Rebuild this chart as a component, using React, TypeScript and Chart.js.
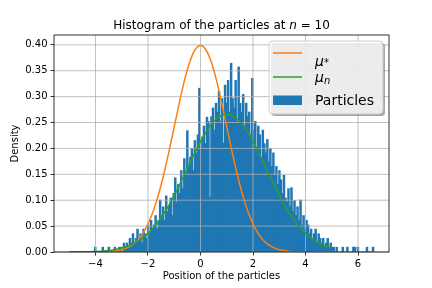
import { useEffect, useRef } from 'react';
import { Chart, registerables } from 'chart.js';

Chart.register(...registerables);

// Histogram bins (edges start at binStart, constant width)
const binStart = -4.9;
const binWidth = 0.0575;
const histDensity = [
  0, 0, 0, 0, 0, 0, 0, 0, 0, 0,
  0, 0, 0, 0, 0, 0.009, 0, 0, 0, 0,
  0.009, 0, 0, 0, 0.009, 0, 0, 0, 0.009, 0,
  0, 0.009, 0.009, 0, 0.017, 0.009, 0.017, 0.009, 0.026, 0.017,
  0.035, 0.017, 0.026, 0.044, 0.026, 0.035, 0.017, 0.044, 0.035, 0.026,
  0.052, 0.035, 0.061, 0.044, 0.052, 0.07, 0.044, 0.061, 0.1, 0.07,
  0.087, 0.061, 0.108, 0.078, 0.089, 0.104, 0.07, 0.113, 0.143, 0.096,
  0.13, 0.113, 0.157, 0.122, 0.18, 0.148, 0.234, 0.165, 0.183, 0.2,
  0.157, 0.215, 0.191, 0.226, 0.316, 0.2, 0.222, 0.243, 0.209, 0.26,
  0.252, 0.105, 0.261, 0.278, 0.235, 0.287, 0.27, 0.31, 0.252, 0.296,
  0.21, 0.322, 0.287, 0.331, 0.27, 0.364, 0.296, 0.278, 0.331, 0.252,
  0.357, 0.287, 0.27, 0.304, 0.243, 0.287, 0.261, 0.27, 0.226, 0.335,
  0.235, 0.252, 0.2, 0.243, 0.226, 0.183, 0.235, 0.209, 0.191, 0.217,
  0.174, 0.2, 0.165, 0.191, 0.148, 0.165, 0.13, 0.157, 0.139, 0.113,
  0.148, 0.104, 0.096, 0.122, 0.087, 0.124, 0.078, 0.099, 0.07, 0.087,
  0.061, 0.1, 0.052, 0.07, 0.044, 0.061, 0.052, 0.035, 0.044, 0.026,
  0.035, 0.044, 0.017, 0.035, 0.026, 0.017, 0.026, 0.009, 0.017, 0.026,
  0.009, 0.017, 0.009, 0.009, 0, 0.009, 0, 0, 0, 0.009,
  0, 0, 0.009, 0, 0, 0, 0.009, 0.009, 0, 0.009,
  0, 0, 0, 0, 0, 0.009, 0, 0, 0, 0.009,
];

// Curves
const curveX = [
  -5, -4.8, -4.6, -4.4, -4.2, -4, -3.8, -3.6, -3.4, -3.2,
  -3, -2.8, -2.6, -2.4, -2.2, -2, -1.8, -1.6, -1.4, -1.2,
  -1, -0.8, -0.6, -0.4, -0.2, 0, 0.2, 0.4, 0.6, 0.8,
  1, 1.2, 1.4, 1.6, 1.8, 2, 2.2, 2.4, 2.6, 2.8,
  3, 3.2, 3.4, 3.6, 3.8, 4, 4.2, 4.4, 4.6, 4.8, 5,
];
const muStar = [
  0, 0, 0, 0, 0, 0.0001, 0.0003, 0.0006, 0.0012, 0.0024,
  0.0044, 0.0079, 0.0136, 0.0224, 0.0355, 0.054, 0.079, 0.1109, 0.1497, 0.1942,
  0.242, 0.2897, 0.3332, 0.3683, 0.391, 0.3989, 0.391, 0.3683, 0.3332, 0.2897,
  0.242, 0.1942, 0.1497, 0.1109, 0.079, 0.054, 0.0355, 0.0224, 0.0136, 0.0079,
  0.0044, 0.0024, 0.0012, 0.0006, 0.0003, 0.0001, 0, 0, 0, 0, 0,
];
const muN = [
  0.0001, 0.0002, 0.0003, 0.0004, 0.0007, 0.001, 0.0016, 0.0024, 0.0036, 0.0053,
  0.0076, 0.0107, 0.0149, 0.0204, 0.0273, 0.036, 0.0466, 0.0592, 0.0739, 0.0907,
  0.1093, 0.1295, 0.1506, 0.1721, 0.1931, 0.213, 0.2307, 0.2455, 0.2567, 0.2636,
  0.266, 0.2636, 0.2567, 0.2455, 0.2307, 0.213, 0.1931, 0.1721, 0.1506, 0.1295,
  0.1093, 0.0907, 0.0739, 0.0592, 0.0466, 0.036, 0.0273, 0.0204, 0.0149, 0.0107, 0.0076,
];

const xTicks = [-4, -2, 0, 2, 4, 6];
const yTicks = [0, 0.05, 0.1, 0.15, 0.2, 0.25, 0.3, 0.35, 0.4];

const FONT = '"DejaVu Sans", "Liberation Sans", sans-serif';
const C_ORANGE = '#ff7f0e';
const C_GREEN = '#2ca02c';
const C_BLUE = '#1f77b4';

const mplPlugin = {
  id: 'mpl',
  afterDatasetDraw(chart: any, args: any) {
    if (args.meta.type !== 'bar') return;
    const { ctx, chartArea: a, scales } = chart;
    ctx.save();
    ctx.strokeStyle = '#b0b0b0';
    ctx.lineWidth = 0.8;
    ctx.beginPath();
    for (const t of xTicks) {
      const px = scales.x.getPixelForValue(t);
      ctx.moveTo(px, a.top);
      ctx.lineTo(px, a.bottom);
    }
    for (const t of yTicks) {
      const py = scales.y.getPixelForValue(t);
      ctx.moveTo(a.left, py);
      ctx.lineTo(a.right, py);
    }
    ctx.stroke();
    ctx.restore();
  },
  afterDatasetsDraw(chart: any) {
    const { ctx, chartArea: a } = chart;
    ctx.save();
    ctx.strokeStyle = '#000';
    ctx.lineWidth = 0.8;
    ctx.strokeRect(a.left, a.top, a.right - a.left, a.bottom - a.top);
    ctx.restore();
  },
  afterDraw(chart: any) {
    const { ctx, chartArea: a } = chart;
    ctx.save();
    // Title
    const parts = [
      { t: 'Histogram of the particles at ', f: `12px ${FONT}` },
      { t: 'n', f: `italic 12px ${FONT}` },
      { t: ' = 10', f: `12px ${FONT}` },
    ];
    let total = 0;
    for (const p of parts) {
      ctx.font = p.f;
      total += ctx.measureText(p.t).width;
    }
    let tx = (a.left + a.right) / 2 - total / 2;
    ctx.fillStyle = '#000';
    ctx.textBaseline = 'alphabetic';
    ctx.textAlign = 'left';
    for (const p of parts) {
      ctx.font = p.f;
      ctx.fillText(p.t, tx, 29);
      tx += ctx.measureText(p.t).width;
    }

    // Legend
    const bx = 269, by = 41, bw = 114, bh = 73, r = 4;
    const rr = (x: number, y: number) => {
      ctx.beginPath();
      ctx.moveTo(x + r, y);
      ctx.lineTo(x + bw - r, y);
      ctx.quadraticCurveTo(x + bw, y, x + bw, y + r);
      ctx.lineTo(x + bw, y + bh - r);
      ctx.quadraticCurveTo(x + bw, y + bh, x + bw - r, y + bh);
      ctx.lineTo(x + r, y + bh);
      ctx.quadraticCurveTo(x, y + bh, x, y + bh - r);
      ctx.lineTo(x, y + r);
      ctx.quadraticCurveTo(x, y, x + r, y);
      ctx.closePath();
    };
    rr(bx + 2, by + 2);
    ctx.fillStyle = 'rgba(77,77,77,0.5)';
    ctx.fill();
    rr(bx, by);
    ctx.fillStyle = 'rgba(255,255,255,0.8)';
    ctx.fill();
    ctx.strokeStyle = '#cccccc';
    ctx.lineWidth = 1;
    ctx.stroke();

    const hx0 = 273, hx1 = 302, textX = 315;
    ctx.lineWidth = 1.5;
    ctx.strokeStyle = C_ORANGE;
    ctx.beginPath(); ctx.moveTo(hx0, 53); ctx.lineTo(hx1, 53); ctx.stroke();
    ctx.strokeStyle = C_GREEN;
    ctx.beginPath(); ctx.moveTo(hx0, 77); ctx.lineTo(hx1, 77); ctx.stroke();
    ctx.fillStyle = C_BLUE;
    ctx.fillRect(hx0, 95.5, hx1 - hx0, 9.5);

    ctx.fillStyle = '#000';
    ctx.font = `italic 14px ${FONT}`;
    ctx.fillText('μ', textX, 66);
    let w = ctx.measureText('μ').width;
    ctx.font = `10px ${FONT}`;
    ctx.fillText('*', textX + w, 66);

    ctx.font = `italic 14px ${FONT}`;
    ctx.fillText('μ', textX, 82);
    w = ctx.measureText('μ').width;
    ctx.font = `italic 10px ${FONT}`;
    ctx.fillText('n', textX + w, 84);

    ctx.font = `14px ${FONT}`;
    ctx.fillText('Particles', textX, 104.7);
    ctx.restore();
  },
};

export default function App() {
  const ref = useRef<HTMLCanvasElement>(null);
  useEffect(() => {
    document.body.style.margin = '0';
    const canvas = ref.current!;
    const histData = histDensity.map((v, i) => ({ x: binStart + binWidth * (i + 0.5), y: v }));
    const starData = curveX.map((x, i) => ({ x, y: muStar[i] }));
    const nData = curveX.map((x, i) => ({ x, y: muN[i] }));
    const fmtX = (v: number) => (v < 0 ? '\u2212' + Math.abs(v) : String(v));
    const chart = new Chart(canvas, {
      type: 'bar',
      data: {
        datasets: [
          {
            type: 'line',
            label: 'mu*',
            data: starData,
            borderColor: C_ORANGE,
            borderWidth: 1.5,
            pointRadius: 0,
            cubicInterpolationMode: 'monotone',
            order: 2,
          } as any,
          {
            type: 'line',
            label: 'mu_n',
            data: nData,
            borderColor: C_GREEN,
            borderWidth: 1.5,
            pointRadius: 0,
            cubicInterpolationMode: 'monotone',
            order: 1,
          } as any,
          {
            type: 'bar',
            label: 'Particles',
            data: histData,
            backgroundColor: C_BLUE,
            borderWidth: 0,
            barPercentage: 1,
            categoryPercentage: 1,
            inflateAmount: 0.5,
            order: 3,
          } as any,
        ],
      },
      options: {
        animation: false,
        responsive: false,
        maintainAspectRatio: false,
        events: [],
        layout: { padding: { left: 0, right: 43, top: 35, bottom: 0 } },
        plugins: { legend: { display: false }, title: { display: false }, tooltip: { enabled: false } },
        scales: {
          x: {
            type: 'linear',
            min: -5.58,
            max: 7.18,
            offset: false,
            afterBuildTicks: (s: any) => { s.ticks = xTicks.map((v) => ({ value: v })); },
            afterFit: (s: any) => { s.height = 36; },
            grid: { display: true, drawOnChartArea: false, drawTicks: true, tickLength: 3.5, tickColor: '#000', tickWidth: 0.8, offset: false },
            border: { display: false },
            ticks: { color: '#000', font: { family: FONT, size: 10 }, padding: 3, maxRotation: 0, autoSkip: false, callback: (v: any) => fmtX(Number(v)) },
            title: { display: true, text: 'Position of the particles', color: '#000', font: { family: FONT, size: 10 }, padding: { top: 0, bottom: 6 } },
          },
          y: {
            type: 'linear',
            min: 0,
            max: 0.419,
            afterBuildTicks: (s: any) => { s.ticks = yTicks.map((v) => ({ value: v })); },
            afterFit: (s: any) => { s.width = 54; },
            grid: { display: true, drawOnChartArea: false, drawTicks: true, tickLength: 3.5, tickColor: '#000', tickWidth: 0.8 },
            border: { display: false },
            ticks: { color: '#000', font: { family: FONT, size: 10 }, padding: 3, autoSkip: false, callback: (v: any) => Number(v).toFixed(2) },
            title: { display: true, text: 'Density', color: '#000', font: { family: FONT, size: 10 }, padding: { top: 9.5, bottom: 0 } },
          },
        },
      } as any,
      plugins: [mplPlugin],
    });
    return () => chart.destroy();
  }, []);
  return (
    <div style={{ width: 432, height: 288, position: 'relative' }}>
      <canvas ref={ref} width={432} height={288} style={{ width: 432, height: 288, display: 'block' }} />
    </div>
  );
}
